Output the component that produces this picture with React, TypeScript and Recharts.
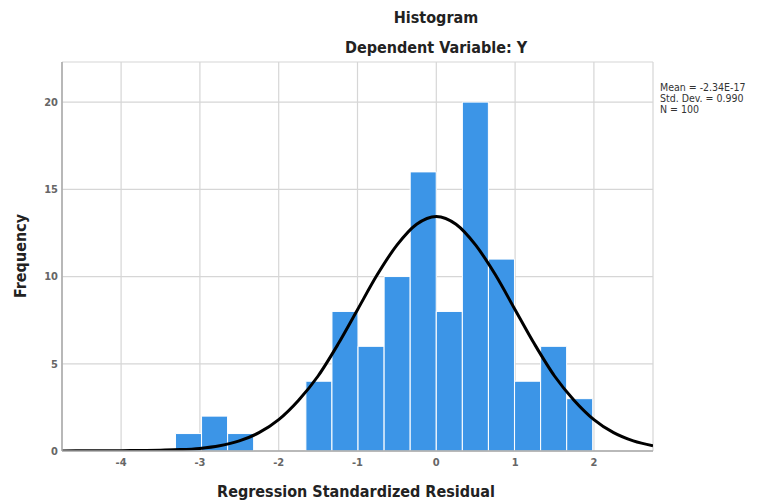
import React from "react";
import {
  ComposedChart,
  Bar,
  Line,
  XAxis,
  YAxis,
  CartesianGrid,
} from "recharts";

// histogram bins (width ~0.331, first bin starts at -3.31)
const binStart = -3.31;
const binWidth = 0.331;
const counts = [1, 2, 1, 0, 0, 4, 8, 6, 10, 16, 8, 20, 11, 4, 6, 3];

// normal curve
const curveX = [
  -4.75, -4.5, -4.25, -4, -3.75, -3.5, -3.25, -3, -2.75, -2.5, -2.25, -2, -1.75,
  -1.5, -1.25, -1, -0.75, -0.5, -0.25, 0, 0.25, 0.5, 0.75, 1, 1.25, 1.5, 1.75, 2,
  2.25, 2.5, 2.75,
];
const curveY = [
  0, 0.01, 0.01, 0.02, 0.03, 0.05, 0.08, 0.15, 0.3, 0.58, 1.05, 1.8, 2.9, 4.3,
  6.1, 8.1, 10.1, 11.8, 13.0, 13.45, 13.0, 11.8, 10.1, 8.1, 6.1, 4.3, 2.9, 1.8,
  1.05, 0.58, 0.3,
];

const xTicks = [-4, -3, -2, -1, 0, 1, 2];
const yTicks = [0, 5, 10, 15, 20];
const statLines = ["Mean = -2.34E-17", "Std. Dev. = 0.990", "N = 100"];

const bins = counts.map((count, i) => ({
  x: binStart + (i + 0.5) * binWidth,
  count,
}));
const curve = curveX.map((x, i) => ({ cx: x, y: curveY[i] }));

const FONT = '"Liberation Sans Narrow", "DejaVu Sans Condensed", Arial, sans-serif';
const X_DOMAIN = [-4.75, 2.75];
const tickStyle = { fontSize: 11, fill: "#666", fontWeight: 600, fontFamily: FONT };

export default function App() {
  return (
    <div
      style={{
        position: "absolute",
        left: 0,
        top: 0,
        width: 764,
        height: 502,
        background: "#fff",
        fontFamily: FONT,
      }}
    >
      <div
        style={{
          position: "absolute",
          left: 0,
          width: 872,
          top: 8,
          textAlign: "center",
          fontSize: 16,
          fontWeight: "bold",
          color: "#222",
        }}
      >
        Histogram
      </div>
      <div
        style={{
          position: "absolute",
          left: 0,
          width: 872,
          top: 38,
          textAlign: "center",
          fontSize: 16,
          fontWeight: "bold",
          color: "#222",
        }}
      >
        Dependent Variable: Y
      </div>
      <div
        style={{
          position: "absolute",
          left: 660,
          top: 82,
          fontSize: 10.5,
          lineHeight: "11px",
          color: "#333",
        }}
      >
        {statLines.map((s) => (
          <div key={s}>{s}</div>
        ))}
      </div>
      <div
        style={{
          position: "absolute",
          left: 20,
          top: 256,
          transform: "translate(-50%, -50%) rotate(-90deg)",
          fontSize: 16,
          fontWeight: "bold",
          color: "#222",
          whiteSpace: "nowrap",
        }}
      >
        Frequency
      </div>
      <div
        style={{
          position: "absolute",
          left: 0,
          width: 712,
          top: 482,
          textAlign: "center",
          fontSize: 16,
          fontWeight: "bold",
          color: "#222",
        }}
      >
        Regression Standardized Residual
      </div>
      <ComposedChart
        width={764}
        height={502}
        data={bins}
        margin={{ top: 62, right: 111, bottom: 26, left: 22 }}
        barGap={0}
        barCategoryGap={0}
        style={{ position: "absolute", left: 0, top: 0 }}
      >
        <CartesianGrid stroke="#d6d6d6" strokeWidth={1.2} />
        <XAxis
          dataKey="x"
          type="number"
          domain={X_DOMAIN}
          ticks={xTicks}
          allowDataOverflow
          height={25}
          tickLine={false}
          tickSize={5}
          axisLine={{ stroke: "#a8a8a8", strokeWidth: 1.5 }}
          tick={tickStyle}
        />
        {/* separate hidden axis for the curve so its points don't shrink the bar band */}
        <XAxis
          xAxisId="curve"
          dataKey="cx"
          type="number"
          domain={X_DOMAIN}
          allowDataOverflow
          hide
        />
        <YAxis
          type="number"
          domain={[0, 22.3]}
          ticks={yTicks}
          allowDataOverflow
          width={40}
          tickLine={false}
          tickSize={3}
          tickMargin={1}
          axisLine={{ stroke: "#a8a8a8", strokeWidth: 1.5 }}
          tick={tickStyle}
        />
        <Bar
          dataKey="count"
          fill="#3c95e7"
          stroke="#ffffff"
          strokeWidth={1}
          isAnimationActive={false}
        />
        <Line
          xAxisId="curve"
          data={curve}
          dataKey="y"
          type="monotone"
          stroke="#000"
          strokeWidth={3}
          dot={false}
          activeDot={false}
          isAnimationActive={false}
        />
      </ComposedChart>
    </div>
  );
}
